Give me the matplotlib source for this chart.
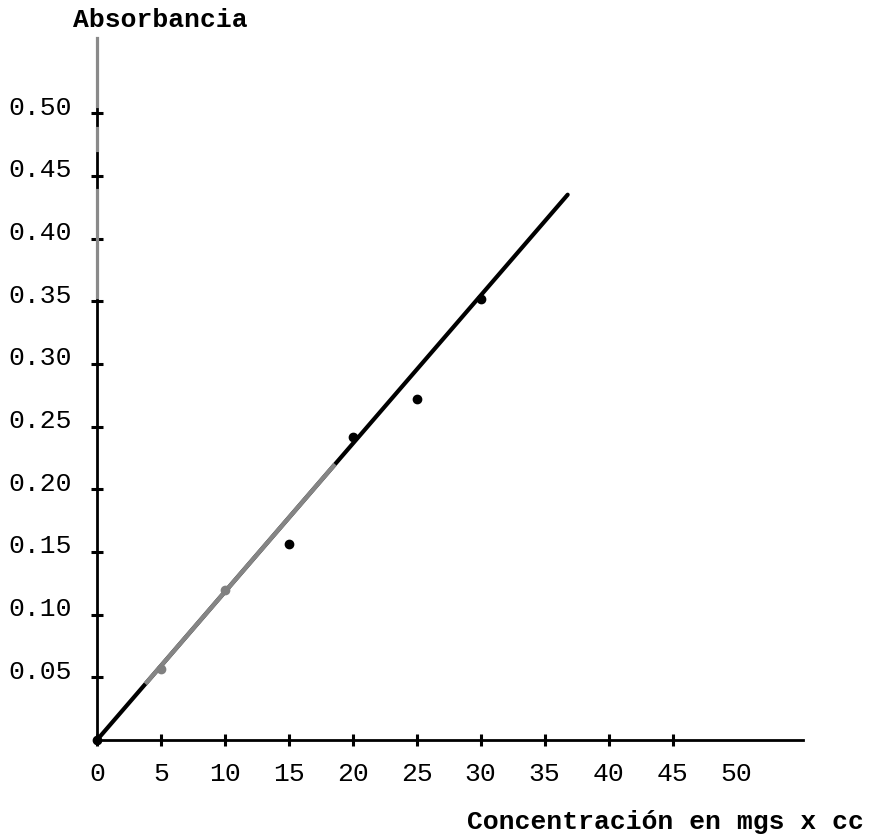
import numpy as np
import matplotlib.pyplot as plt
from matplotlib.transforms import ScaledTranslation

# measured points (concentration, absorbance)
conc = [0, 5, 10, 15, 20, 25, 30]
absorb = [0.0, 0.057, 0.120, 0.156, 0.242, 0.272, 0.352]
point_colors = ['black', 'grey', 'grey', 'black', 'black', 'black', 'black']

# fitted straight line drawn by hand
fit_x = [0, 36.8]
fit_y = [0.0, 0.435]
faded_x = [3.9, 18.5]      # part of the line that came out grey in the scan

xticks = [0, 5, 10, 15, 20, 25, 30, 35, 40, 45, 50]
yticks = [0.05, 0.10, 0.15, 0.20, 0.25, 0.30, 0.35, 0.40, 0.45, 0.50]
ylabels = ['0.05', '0.10', '0.15', '0.20', '0.25', '0.30', '0.35', '0.40', '0.45', '0.50']

plt.rcParams['font.family'] = ['Liberation Mono', 'DejaVu Sans Mono']

fig = plt.figure(figsize=(8.73, 8.38), dpi=100)
ax = fig.add_axes([97/873, 98/838, (803-97)/873, (740-38)/838])

slope = fit_y[1] / fit_x[1]
ax.plot(fit_x, fit_y, color='black', lw=3.0, solid_capstyle='round', zorder=3)
ax.plot(faded_x, [slope*faded_x[0], slope*faded_x[1]], color='#858585', lw=3.2, zorder=4)
for x, y, c in zip(conc, absorb, point_colors):
    ax.plot(x, y, 'o', color=c, ms=6, zorder=5, clip_on=False)

ax.set_xlim(0, 55.2)
ax.set_ylim(0, 0.56)

for s in ['top', 'right']:
    ax.spines[s].set_visible(False)
for s in ['left', 'bottom']:
    ax.spines[s].set_linewidth(2.0)
    ax.spines[s].set_color('black')

# grey (faded) stretches of the vertical axis
for y0, y1 in [(0.506, 0.56), (0.471, 0.488), (0.353, 0.439)]:
    ax.plot([0, 0], [y0, y1], color='#8a8a8a', lw=2.3, clip_on=False, zorder=6)

ax.set_xticks(xticks)
ax.set_xticklabels([str(t) for t in xticks])
ax.xaxis.get_major_ticks()[-1].tick1line.set_visible(False)
ax.set_yticks(yticks)
ax.set_yticklabels(ylabels)
ax.tick_params(axis='both', direction='inout', length=8, width=2.2, colors='black', labelsize=19)
ax.tick_params(axis='x', pad=12)
ax.tick_params(axis='y', pad=14)
for lbl in ax.get_yticklabels():
    lbl.set_transform(lbl.get_transform() + ScaledTranslation(0, 8/100, fig.dpi_scale_trans))

fig.text(160/873, 1 - 20/838, 'Absorbancia', ha='center', va='center', fontsize=19, fontweight='bold')
fig.text(467/873, 1 - 822/838, 'Concentración en mgs x cc', ha='left', va='center', fontsize=19,
         fontweight='bold')

fig.savefig('out.png', dpi=100)
